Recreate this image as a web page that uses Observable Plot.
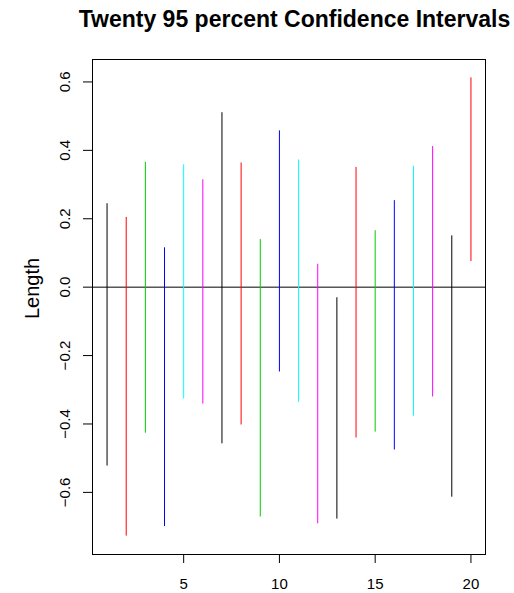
<!DOCTYPE html>
<html>
<head>
<meta charset="utf-8">
<script src="https://cdn.jsdelivr.net/npm/d3@7"></script>
<script src="https://cdn.jsdelivr.net/npm/@observablehq/plot@0.6"></script>
<style>
  html, body { margin: 0; padding: 0; background: white; }
  #wrap { width: 514px; height: 593px; position: relative; font-family: "Liberation Sans", Arial, sans-serif; }
  #title { height: 44px; box-sizing: border-box; padding-top: 8px; width: 514px;
           font-size: 23px; line-height: 23px; font-weight: bold; color: black; white-space: nowrap; }
  #title span { display: inline-block; width: 439px; margin-left: 75px; text-align: center; }
</style>
</head>
<body>
<div id="wrap">
  <div id="title"><span>Twenty 95 percent Confidence Intervals</span></div>
  <div id="chart"></div>
</div>
<script>
const yLabel = "Length";
const index = [1,2,3,4,5,6,7,8,9,10,11,12,13,14,15,16,17,18,19,20];
const lower = [-0.523,-0.728,-0.427,-0.700,-0.327,-0.342,-0.458,-0.403,-0.672,-0.248,
               -0.337,-0.692,-0.678,-0.441,-0.424,-0.476,-0.377,-0.321,-0.614,0.075];
const upper = [0.244,0.204,0.365,0.115,0.358,0.314,0.510,0.363,0.139,0.457,
               0.372,0.067,-0.031,0.350,0.165,0.253,0.353,0.411,0.150,0.612];
const palette = ["black","red","#00CD00","blue","cyan","magenta"];
const xTicks = [5,10,15,20];
const yTicks = [-0.6,-0.4,-0.2,0.0,0.2,0.4,0.6];

const data = index.map((i, k) => ({i, lo: lower[k], hi: upper[k], color: palette[k % palette.length]}));

const yMin = d3.min(lower), yMax = d3.max(upper);
const yPad = (yMax - yMin) * 0.04;
const xPad = (d3.max(index) - d3.min(index)) * 0.04;

const chart = Plot.plot({
  width: 514,
  height: 549,
  marginLeft: 92,
  marginRight: 29,
  marginTop: 15,
  marginBottom: 39,
  style: {fontFamily: '"Liberation Sans", Arial, sans-serif', color: "black", background: "transparent"},
  x: {domain: [d3.min(index) - xPad, d3.max(index) + xPad]},
  y: {domain: [yMin - yPad, yMax + yPad]},
  color: {type: "identity"},
  marks: [
    Plot.ruleY([0], {stroke: "black", strokeWidth: 1}),
    Plot.ruleX(data, {x: "i", y1: "lo", y2: "hi", stroke: "color", strokeWidth: 1}),
    Plot.frame({stroke: "black", strokeWidth: 1}),
    Plot.axisX({ticks: xTicks, tickSize: 9, tickPadding: 15, fontSize: 15, label: null, stroke: "black", strokeWidth: 1}),
    Plot.axisY({ticks: yTicks, tickSize: 9, tickPadding: 14, tickRotate: -90, fontSize: 15,
                tickFormat: d3.format(".1f"), label: null, stroke: "black", strokeWidth: 1}),
    Plot.text([yLabel], {frameAnchor: "left", rotate: -90, dx: -60, dy: 12, fontSize: 20, fill: "black"})
  ]
});
document.getElementById("chart").appendChild(chart);
</script>
</body>
</html>
